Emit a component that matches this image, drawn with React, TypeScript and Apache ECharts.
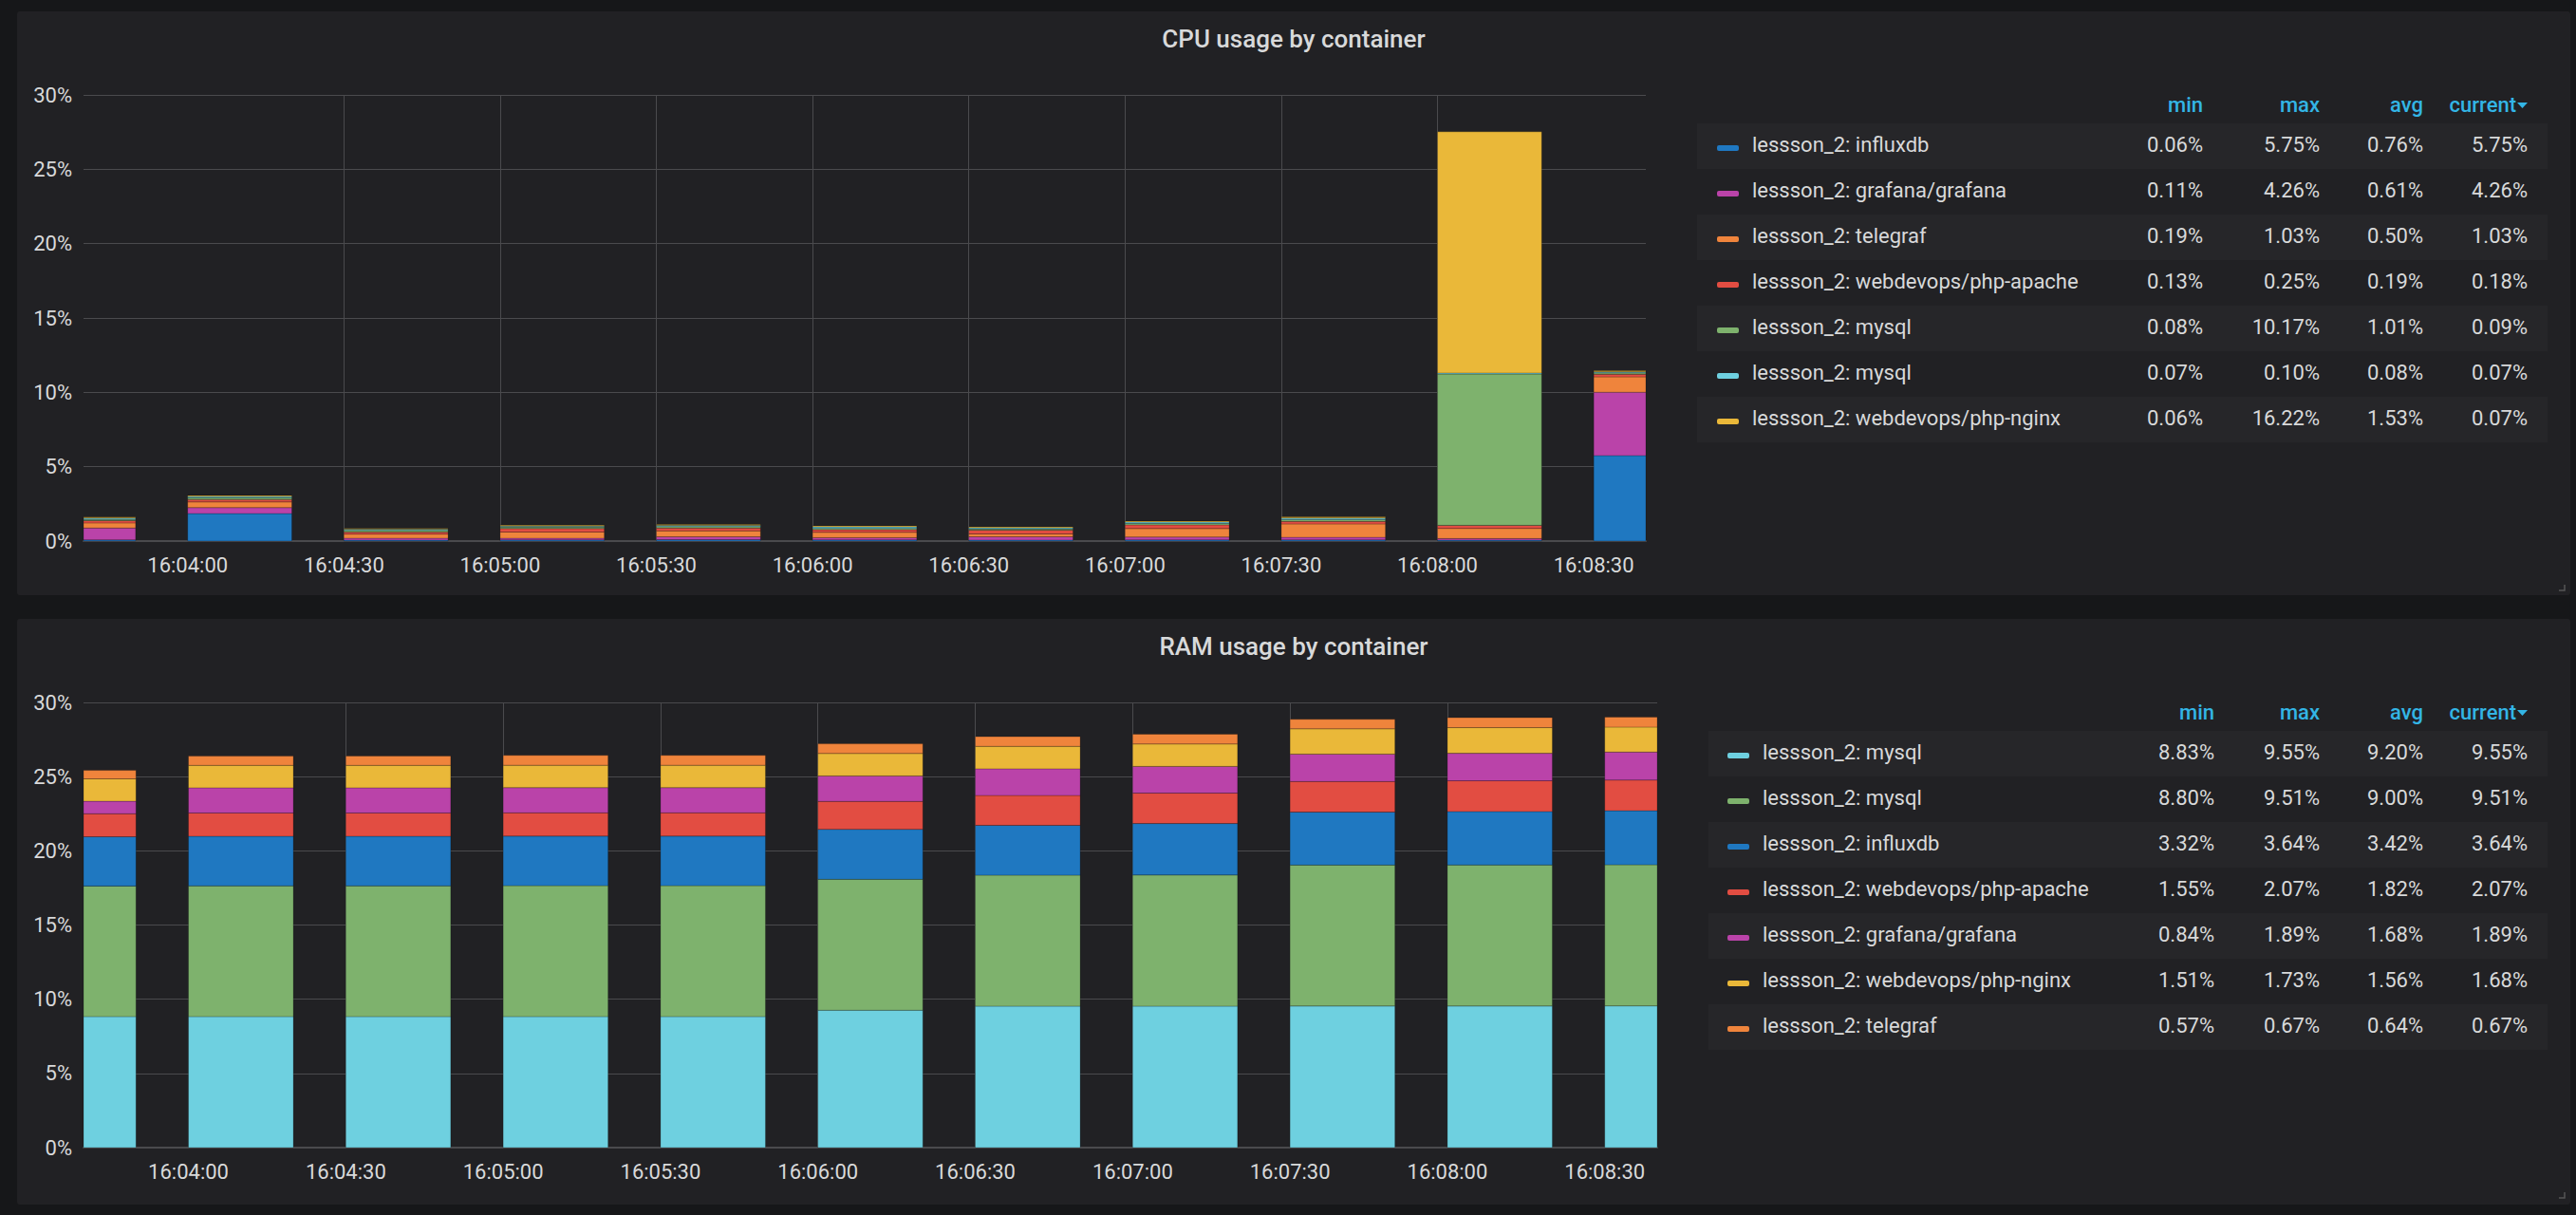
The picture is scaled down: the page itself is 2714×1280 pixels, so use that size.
import React, { useEffect, useRef } from 'react';
import * as echarts from 'echarts';

// ---------- data ----------
const times = ['16:03:30', '16:04:00', '16:04:30', '16:05:00', '16:05:30', '16:06:00', '16:06:30', '16:07:00', '16:07:30', '16:08:00', '16:08:30'];
const xTickLabels = ['16:04:00', '16:04:30', '16:05:00', '16:05:30', '16:06:00', '16:06:30', '16:07:00', '16:07:30', '16:08:00', '16:08:30'];
const axisStart = '16:03:40';
const axisEnd = '16:08:40';
const barSeconds = 20;

const yTicks = [0, 5, 10, 15, 20, 25, 30];

// CPU usage (stack order bottom -> top, same as legend order)
const cpuNames = ['lessson_2: influxdb', 'lessson_2: grafana/grafana', 'lessson_2: telegraf', 'lessson_2: webdevops/php-apache', 'lessson_2: mysql', 'lessson_2: mysql', 'lessson_2: webdevops/php-nginx'];
const cpuColors = ['#1F78C1', '#BA43A9', '#EF843C', '#E24D42', '#7EB26D', '#6ED0E0', '#EAB839'];
const cpuInfluxdb = [0.08, 1.85, 0.06, 0.08, 0.10, 0.08, 0.07, 0.08, 0.08, 0.06, 5.75];
const cpuGrafana = [0.80, 0.40, 0.13, 0.11, 0.19, 0.15, 0.22, 0.19, 0.17, 0.11, 4.26];
const cpuTelegraf = [0.34, 0.38, 0.28, 0.42, 0.40, 0.36, 0.19, 0.57, 0.90, 0.68, 1.03];
const cpuPhpApache = [0.15, 0.17, 0.13, 0.23, 0.19, 0.17, 0.25, 0.25, 0.17, 0.21, 0.18];
const cpuMysqlA = [0.09, 0.12, 0.12, 0.10, 0.10, 0.09, 0.08, 0.09, 0.12, 10.17, 0.09];
const cpuMysqlB = [0.08, 0.08, 0.07, 0.07, 0.08, 0.10, 0.08, 0.10, 0.10, 0.07, 0.07];
const cpuPhpNginx = [0.07, 0.07, 0.06, 0.06, 0.06, 0.07, 0.06, 0.06, 0.08, 16.22, 0.07];
const cpuMin = [0.06, 0.11, 0.19, 0.13, 0.08, 0.07, 0.06];
const cpuMax = [5.75, 4.26, 1.03, 0.25, 10.17, 0.10, 16.22];
const cpuAvg = [0.76, 0.61, 0.50, 0.19, 1.01, 0.08, 1.53];
const cpuCurrent = [5.75, 4.26, 1.03, 0.18, 0.09, 0.07, 0.07];

// RAM usage (stack order bottom -> top, same as legend order)
const ramNames = ['lessson_2: mysql', 'lessson_2: mysql', 'lessson_2: influxdb', 'lessson_2: webdevops/php-apache', 'lessson_2: grafana/grafana', 'lessson_2: webdevops/php-nginx', 'lessson_2: telegraf'];
const ramColors = ['#6ED0E0', '#7EB26D', '#1F78C1', '#E24D42', '#BA43A9', '#EAB839', '#EF843C'];
const ramMysqlA = [8.83, 8.83, 8.83, 8.83, 8.83, 9.26, 9.53, 9.53, 9.54, 9.54, 9.55];
const ramMysqlB = [8.80, 8.81, 8.81, 8.82, 8.82, 8.82, 8.83, 8.84, 9.50, 9.51, 9.51];
const ramInfluxdb = [3.32, 3.34, 3.34, 3.34, 3.34, 3.37, 3.36, 3.47, 3.57, 3.60, 3.64];
const ramPhpApache = [1.55, 1.57, 1.57, 1.57, 1.57, 1.88, 2.01, 2.05, 2.06, 2.07, 2.07];
const ramGrafana = [0.84, 1.70, 1.70, 1.70, 1.70, 1.72, 1.80, 1.80, 1.85, 1.85, 1.89];
const ramPhpNginx = [1.51, 1.51, 1.51, 1.51, 1.51, 1.51, 1.51, 1.51, 1.70, 1.73, 1.68];
const ramTelegraf = [0.57, 0.62, 0.63, 0.66, 0.66, 0.65, 0.65, 0.66, 0.64, 0.67, 0.67];
const ramMin = [8.83, 8.80, 3.32, 1.55, 0.84, 1.51, 0.57];
const ramMax = [9.55, 9.51, 3.64, 2.07, 1.89, 1.73, 0.67];
const ramAvg = [9.20, 9.00, 3.42, 1.82, 1.68, 1.56, 0.64];
const ramCurrent = [9.55, 9.51, 3.64, 2.07, 1.89, 1.68, 0.67];

const statHeaders = ['min', 'max', 'avg', 'current'];

// ---------- helpers ----------
const toMs = (s: string) => {
  const [h, m, sec] = s.split(':').map(Number);
  return new Date(2021, 0, 1, h, m, sec).getTime();
};
const pad = (n: number) => (n < 10 ? '0' + n : '' + n);
const fmtTime = (v: number) => {
  const d = new Date(v);
  return pad(d.getHours()) + ':' + pad(d.getMinutes()) + ':' + pad(d.getSeconds());
};
const pct = (v: number) => v.toFixed(2) + '%';

const TEXT = '#d8d9da';
const GRID = '#4a4a4d';
const FONT = 'Roboto, "Noto Sans", sans-serif';

function stackSeries(values: number[][], colors: string[], names: string[], axisIndex: number) {
  const base = times.map(() => 0);
  return values.map((vals, si) => {
    const data = times.map((t, i) => {
      const b = base[i];
      const top = b + vals[i];
      base[i] = top;
      return [toMs(t), b, top];
    });
    const color = colors[si];
    return {
      type: 'custom',
      name: names[si] + '#' + si,
      xAxisIndex: axisIndex,
      yAxisIndex: axisIndex,
      encode: { x: 0, y: 2 },
      data,
      renderItem: (params: any, api: any) => {
        const start = api.value(0);
        const b = api.value(1);
        const top = api.value(2);
        const p0 = api.coord([start, top]);
        const p1 = api.coord([start + barSeconds * 1000, b]);
        const cs = params.coordSys;
        const shape = echarts.graphic.clipRectByRect(
          { x: p0[0], y: p0[1], width: p1[0] - p0[0], height: p1[1] - p0[1] },
          { x: cs.x, y: cs.y, width: cs.width, height: cs.height }
        );
        if (!shape) return null;
        return {
          type: 'rect',
          shape,
          style: { fill: color, stroke: 'rgba(0,0,0,0.22)', lineWidth: 1 },
        };
      },
    };
  });
}

function legendGraphics(opts: {
  names: string[]; colors: string[]; stats: number[][];
  headerY: number; rowY0: number; bandX: number; swatchX: number; textX: number; colRight: number[];
}) {
  const els: any[] = [];
  const { names, colors, stats, headerY, rowY0, bandX, swatchX, textX, colRight } = opts;
  const bandRight = 2684;
  statHeaders.forEach((h, ci) => {
    const right = ci === 3 ? colRight[ci] - 12 : colRight[ci];
    els.push({
      type: 'text', x: right, y: headerY,
      style: { text: h, fill: '#33B5E5', font: `500 22px ${FONT}`, align: 'right', verticalAlign: 'middle' },
    });
  });
  els.push({
    type: 'polygon',
    shape: { points: [[colRight[3] - 11, headerY - 2], [colRight[3], headerY - 2], [colRight[3] - 5.5, headerY + 4]] },
    style: { fill: '#33B5E5' },
  });
  names.forEach((n, ri) => {
    const cy = rowY0 + ri * 48;
    if (ri % 2 === 0) {
      els.push({ type: 'rect', shape: { x: bandX, y: cy - 24, width: bandRight - bandX, height: 48 }, style: { fill: '#262629' }, z: -1 });
    }
    els.push({ type: 'rect', shape: { x: swatchX, y: cy - 1, width: 23, height: 6, r: 2 }, style: { fill: colors[ri] } });
    els.push({ type: 'text', x: textX, y: cy - 2, style: { text: n, fill: TEXT, font: `22px ${FONT}`, verticalAlign: 'middle' } });
    stats.forEach((col, ci) => {
      els.push({ type: 'text', x: colRight[ci], y: cy - 2, style: { text: pct(col[ri]), fill: TEXT, font: `22px ${FONT}`, align: 'right', verticalAlign: 'middle' } });
    });
  });
  return els;
}

function makeXAxis(gridIndex: number) {
  const ticks = xTickLabels.map(toMs);
  return {
    type: 'value',
    gridIndex,
    min: toMs(axisStart),
    max: toMs(axisEnd),
    axisLine: { show: true, lineStyle: { color: GRID, width: 2 } },
    axisTick: { show: false, customValues: ticks },
    splitLine: { show: true, showMinLine: false, showMaxLine: false, lineStyle: { color: GRID, width: 1 } },
    axisLabel: {
      color: TEXT, fontSize: 22, fontFamily: FONT, margin: 14,
      customValues: ticks,
      formatter: (v: number) => fmtTime(v),
    },
  };
}
function makeYAxis(gridIndex: number) {
  return {
    type: 'value',
    gridIndex,
    min: yTicks[0],
    max: yTicks[yTicks.length - 1],
    interval: yTicks[1] - yTicks[0],
    axisLine: { show: false },
    axisTick: { show: false },
    splitLine: { show: true, lineStyle: { color: GRID, width: 1 } },
    axisLabel: { color: TEXT, fontSize: 22, fontFamily: FONT, margin: 12, formatter: '{value}%' },
  };
}

export default function App() {
  const ref = useRef<HTMLDivElement>(null);
  useEffect(() => {
    if (!ref.current) return;
    const chart = echarts.init(ref.current, undefined, { renderer: 'svg' });
    const cpuVals = [cpuInfluxdb, cpuGrafana, cpuTelegraf, cpuPhpApache, cpuMysqlA, cpuMysqlB, cpuPhpNginx];
    const ramVals = [ramMysqlA, ramMysqlB, ramInfluxdb, ramPhpApache, ramGrafana, ramPhpNginx, ramTelegraf];
    const graphics = [
      { type: 'text', x: 1363, y: 41, style: { text: 'CPU usage by container', fill: TEXT, font: `500 26px ${FONT}`, align: 'center', verticalAlign: 'middle' } },
      { type: 'text', x: 1363, y: 681, style: { text: 'RAM usage by container', fill: TEXT, font: `500 26px ${FONT}`, align: 'center', verticalAlign: 'middle' } },
      ...legendGraphics({
        names: cpuNames, colors: cpuColors, stats: [cpuMin, cpuMax, cpuAvg, cpuCurrent],
        headerY: 110, rowY0: 154, bandX: 1788, swatchX: 1809, textX: 1846, colRight: [2321, 2444, 2553, 2663],
      }),
      ...legendGraphics({
        names: ramNames, colors: ramColors, stats: [ramMin, ramMax, ramAvg, ramCurrent],
        headerY: 750, rowY0: 794, bandX: 1800, swatchX: 1820, textX: 1857, colRight: [2333, 2444, 2553, 2663],
      }),
      { type: 'polyline', shape: { points: [[2696, 622], [2702, 622], [2702, 616]] }, style: { stroke: '#555', lineWidth: 1.5, fill: 'none' } },
      { type: 'polyline', shape: { points: [[2696, 1262], [2702, 1262], [2702, 1256]] }, style: { stroke: '#555', lineWidth: 1.5, fill: 'none' } },
    ];
    chart.setOption({
      animation: false,
      backgroundColor: 'transparent',
      textStyle: { fontFamily: FONT },
      grid: [
        { left: 88, top: 100, width: 1646, height: 470 },
        { left: 88, top: 740, width: 1658, height: 469 },
      ],
      xAxis: [makeXAxis(0), makeXAxis(1)],
      yAxis: [makeYAxis(0), makeYAxis(1)],
      series: [
        ...stackSeries(cpuVals, cpuColors, cpuNames, 0),
        ...stackSeries(ramVals, ramColors, ramNames, 1),
      ],
      graphic: graphics,
    });
    return () => chart.dispose();
  }, []);

  return (
    <div style={{ position: 'fixed', left: 0, top: 0, width: 2714, height: 1280, background: '#161719', overflow: 'hidden' }}>
      <div style={{ position: 'absolute', left: 18, top: 12, width: 2690, height: 615, background: '#212124', borderRadius: 3 }} />
      <div style={{ position: 'absolute', left: 18, top: 652, width: 2690, height: 617, background: '#212124', borderRadius: 3 }} />
      <div ref={ref} style={{ position: 'absolute', left: 0, top: 0, width: 2714, height: 1280 }} />
    </div>
  );
}
